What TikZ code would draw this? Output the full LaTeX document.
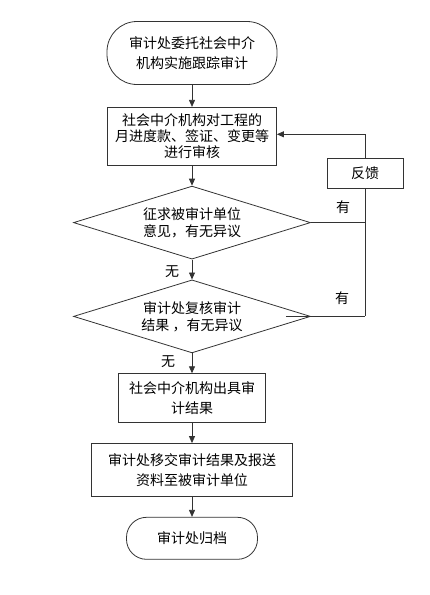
\documentclass[tikz,border=0pt]{standalone}
\usepackage{fontspec}
\usepackage{tikz}
\usetikzlibrary{shapes.geometric, arrows.meta, positioning}
\newfontfamily\cjk{Noto Sans CJK SC}
\definecolor{LineGray}{HTML}{333333}
\tikzset{
    box/.style={draw=LineGray, line width=0.8pt, fill=white, align=center, inner sep=2pt, font=\cjk\fontsize{14}{20}\selectfont},
    term/.style={box, rounded corners=20pt},
    decision/.style={diamond, draw=LineGray, line width=0.8pt, align=center, inner sep=0pt, aspect=3.25, minimum width=237pt, minimum height=73pt, font=\cjk\fontsize{14}{17}\selectfont},
    arr/.style={-{Triangle[length=7pt,width=6pt]}, line width=0.8pt, draw=LineGray},
    link/.style={line width=0.8pt, draw=LineGray},
    tag/.style={font=\cjk\fontsize{14}{15}\selectfont, inner sep=0pt}
}
\begin{document}
\begin{tikzpicture}[x=1pt, y=1pt, node distance=20pt]
    \useasboundingbox (0,0) rectangle (430,-595);
    % Main column
    \node[term, rounded corners=30pt, minimum width=170pt, minimum height=63pt] (entrust) at (192,-53) {审计处委托社会中介\\机构实施跟踪审计};
    \node[box, below=22pt of entrust, minimum width=169pt, minimum height=58pt, font=\cjk\fontsize{14}{16}\selectfont] (review) {社会中介机构对工程的\\月进度款、签证、变更等\\进行审核};
    \node[decision, below=of review] (opinion) {征求被审计单位\\意见，有无异议};
    \node[decision, below=of opinion] (recheck) {审计处复核审计\\结果 ，有无异议};
    \node[box, below=of recheck, minimum width=147pt, minimum height=49pt] (issue) {社会中介机构出具审\\计结果};
    \node[box, below=of issue, minimum width=201pt, minimum height=53pt] (handover) {审计处移交审计结果及报送\\资料至被审计单位};
    \node[term, below=of handover, minimum width=131pt, minimum height=42pt] (archive) {审计处归档};

    \draw[arr] (entrust) -- (review);
    \draw[arr] (review) -- (opinion);
    \draw[arr] (opinion) -- (recheck);
    \draw[arr] (recheck) -- (issue);
    \draw[arr] (issue) -- (handover);
    \draw[arr] (handover) -- (archive);

    \node[tag] at (172,-272) {无};
    \node[tag] at (168,-362) {无};

    % Feedback loop
    \node[box, minimum width=76pt, minimum height=30pt] (feedback) at (365,-173) {反馈};
    \coordinate (join) at (feedback.south |- recheck.east);
    \draw[link] (feedback.south) -- (join);
    \draw[link] (opinion.east) -- (opinion.east -| feedback.south);
    \draw[link] ([xshift=-25pt]recheck.east) -- (join);
    \draw[arr] (feedback.north) |- ([yshift=2pt]review.east);

    \node[tag] at (343,-207) {有};
    \node[tag] at (342,-298) {有};
\end{tikzpicture}
\end{document}
